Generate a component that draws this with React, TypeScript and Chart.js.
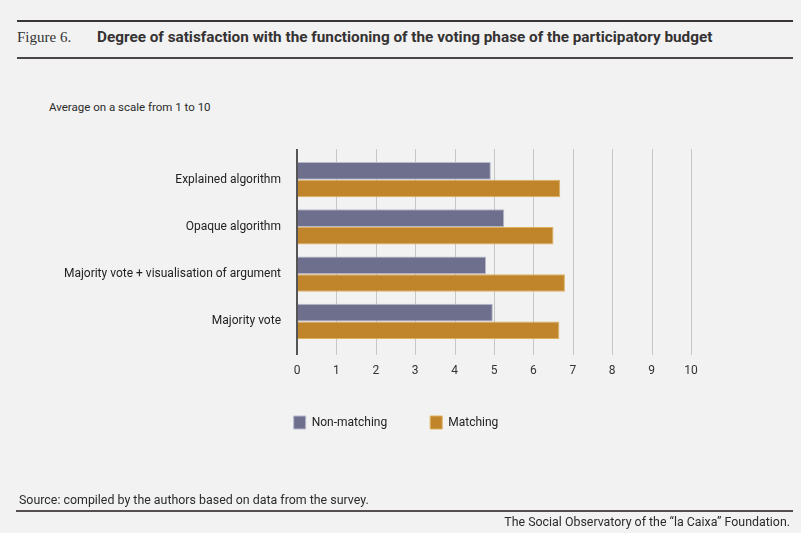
import { useEffect, useRef } from "react";
import { Chart, registerables } from "chart.js";

Chart.register(...registerables);

const categories = [
  "Explained algorithm",
  "Opaque algorithm",
  "Majority vote + visualisation of argument",
  "Majority vote",
];
const seriesLabels = ["Non-matching", "Matching"];
const nonMatching = [4.92, 5.26, 4.8, 4.97];
const matching = [6.68, 6.51, 6.8, 6.66];
const xTicks = [0, 1, 2, 3, 4, 5, 6, 7, 8, 9, 10];

const FONT = "Roboto, 'Noto Sans', sans-serif";

const gridPlugin = {
  id: "extendedGrid",
  afterLayout(chart: any) {
    const lg = chart.legend;
    if (lg) {
      lg.left = 101;
      lg.right = 691;
      lg.width = 590;
      lg.top = 373;
      lg.bottom = 373 + lg.height;
    }
  },
  beforeDatasetsDraw(chart: any) {
    const { ctx, chartArea, scales } = chart;
    const xs = scales.x;
    ctx.save();
    ctx.strokeStyle = "#c6c6c6";
    ctx.lineWidth = 1;
    for (const v of xTicks) {
      if (v === 0) continue;
      const x = Math.round(xs.getPixelForValue(v)) + 0.5;
      ctx.beginPath();
      ctx.moveTo(x, chartArea.top - 7);
      ctx.lineTo(x, chartArea.bottom + 10);
      ctx.stroke();
    }
    ctx.restore();
  },
  afterDatasetsDraw(chart: any) {
    const { ctx, chartArea, scales } = chart;
    const xs = scales.x;
    const x = Math.round(xs.getPixelForValue(0));
    ctx.save();
    ctx.strokeStyle = "#555555";
    ctx.lineWidth = 2;
    ctx.beginPath();
    ctx.moveTo(x, chartArea.top - 7);
    ctx.lineTo(x, chartArea.bottom + 10);
    ctx.stroke();
    ctx.restore();
  },
};

function ChartCanvas() {
  const ref = useRef<HTMLCanvasElement | null>(null);
  useEffect(() => {
    if (!ref.current) return;
    const chart = new Chart(ref.current, {
      type: "bar",
      data: {
        labels: categories,
        datasets: [
          {
            label: seriesLabels[0],
            data: nonMatching,
            backgroundColor: "#6e6f8d",
            borderColor: "#b9b9cc",
            borderWidth: 1,
            categoryPercentage: 0.75,
            barPercentage: 1,
          },
          {
            label: seriesLabels[1],
            data: matching,
            backgroundColor: "#c0852a",
            borderColor: "#ddb060",
            borderWidth: 1,
            categoryPercentage: 0.75,
            barPercentage: 1,
          },
        ],
      },
      options: {
        indexAxis: "y",
        animation: false,
        responsive: true,
        maintainAspectRatio: false,
        layout: { padding: { left: 0, right: 110, top: 156, bottom: 88 } },
        scales: {
          x: {
            type: "linear",
            min: 0,
            max: 10,
            afterBuildTicks(scale: any) {
              scale.ticks = xTicks.map((v) => ({ value: v }));
            },
            afterFit(scale: any) {
              scale.height = 34;
            },
            grid: { display: false, drawTicks: false },
            border: { display: false },
            ticks: {
              padding: 19,
              color: "#333333",
              font: { family: FONT, size: 12 },
            },
          },
          y: {
            type: "category",
            afterFit(scale: any) {
              scale.width = 297;
            },
            grid: { display: false, drawTicks: false },
            border: { display: false },
            ticks: {
              padding: 16,
              color: "#222222",
              font: { family: FONT, size: 12 },
            },
          },
        },
        plugins: {
          legend: {
            position: "bottom",
            align: "center",
            labels: {
              boxWidth: 12,
              boxHeight: 13,
              padding: 43,
              color: "#222222",
              font: { family: FONT, size: 12 },
            },
          },
          tooltip: { enabled: false },
        },
      },
      plugins: [gridPlugin],
    } as any);
    return () => chart.destroy();
  }, []);
  return <canvas ref={ref} />;
}

const textBase: React.CSSProperties = {
  position: "absolute",
  fontFamily: FONT,
  fontSize: 12,
  lineHeight: "16px",
  color: "#2b2b2b",
  whiteSpace: "nowrap",
};

export default function App() {
  useEffect(() => {
    document.body.style.margin = "0";
    document.body.style.background = "#f2f2f2";
  }, []);
  return (
    <div
      style={{
        position: "absolute",
        left: 0,
        top: 0,
        width: 801,
        height: 533,
        background: "#f2f2f2",
        overflow: "hidden",
      }}
    >
      <div style={{ position: "absolute", left: 17, top: 20, width: 776, height: 2, background: "#3a3636" }} />
      <div
        style={{
          ...textBase,
          left: 17,
          top: 28,
          lineHeight: "18px",
          fontFamily: "'Liberation Serif', 'DejaVu Serif', serif",
          fontSize: 15,
          color: "#333",
        }}
      >
        Figure 6.
      </div>
      <div
        style={{
          ...textBase,
          left: 97,
          top: 28,
          lineHeight: "18px",
          fontSize: 15.3,
          fontWeight: 700,
          color: "#353232",
        }}
      >
        Degree of satisfaction with the functioning of the voting phase of the participatory budget
      </div>
      <div style={{ position: "absolute", left: 17, top: 57, width: 776, height: 2, background: "#4a4646" }} />
      <div style={{ ...textBase, left: 49, top: 99, fontSize: 11.5 }}>Average on a scale from 1 to 10</div>
      <div style={{ position: "absolute", left: 0, top: 0, width: 801, height: 533 }}>
        <ChartCanvas />
      </div>
      <div style={{ ...textBase, left: 19, top: 492, fontSize: 12.4 }}>
        Source: compiled by the authors based on data from the survey.
      </div>
      <div style={{ position: "absolute", left: 16, top: 510, width: 777, height: 2, background: "#555050" }} />
      <div style={{ ...textBase, right: 11, top: 514, fontSize: 12.4 }}>
        The Social Observatory of the “la Caixa” Foundation.
      </div>
    </div>
  );
}
